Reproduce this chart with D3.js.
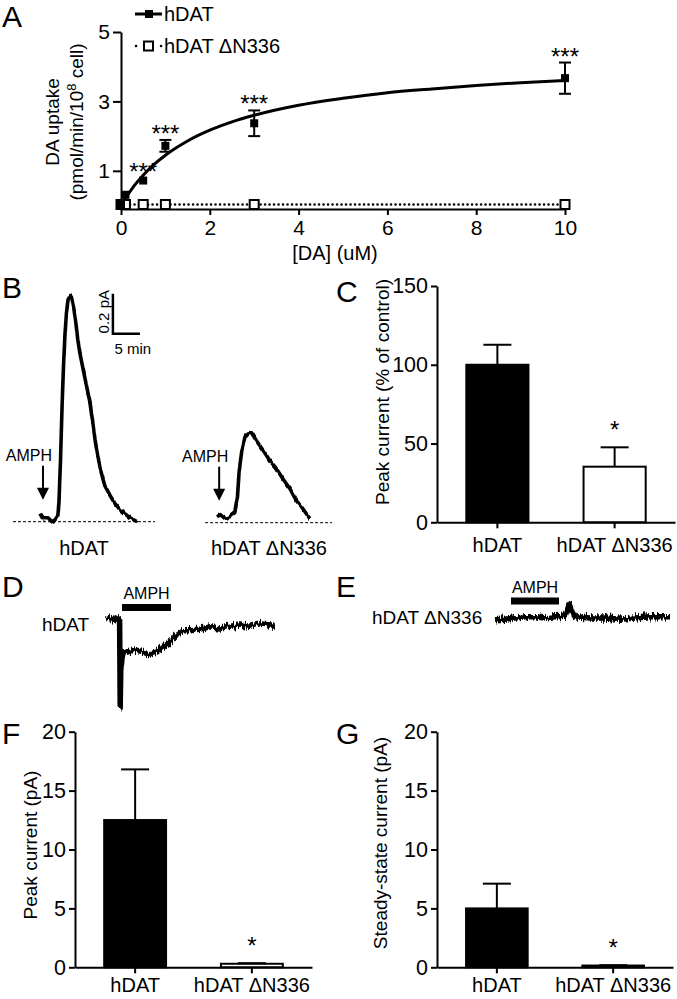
<!DOCTYPE html>
<html>
<head>
<meta charset="utf-8">
<script src="https://cdn.jsdelivr.net/npm/d3@7"></script>
<style>
  body { margin: 0; background: #fff; }
  svg text { font-family: "Liberation Sans", Arial, sans-serif; fill: #000; }
</style>
</head>
<body>
<svg id="fig" width="677" height="999"></svg>
<script>
// ---- panel A: DA uptake vs [DA]
const daConc = [0, 0.1, 0.5, 1, 3, 10]
const uptakeWT = [0.02, 0.31, 0.72, 1.72, 2.37, 3.67]
const uptakeWTErr = [0.03, 0.05, 0.06, 0.17, 0.37, 0.45]
const uptakeDN = [0.03, 0.03, 0.03, 0.03, 0.03, 0.03]
const uptakeStars = ["", "", "***", "***", "***", "***"]
const fitConc = [0, 0.1, 0.25, 0.5, 0.75, 1, 1.5, 2, 2.5, 3, 4, 5, 6, 7, 8, 9, 10]
const fitUptake = [0, 0.21, 0.49, 0.87, 1.19, 1.45, 1.86, 2.17, 2.41, 2.6, 2.89, 3.09, 3.25, 3.36, 3.46, 3.54, 3.6]
const aXTicks = [0, 2, 4, 6, 8, 10]
const aYTicks = [1, 3, 5]

// ---- panel B: amperometric traces (min, pA)
const bWtTime = [0, 0.4, 0.9, 1.5, 2.2, 2.8, 3.3, 3.5, 3.8, 4.1, 4.4, 4.6, 4.9, 5.2, 5.6, 5.9, 6.3, 6.7, 7.0, 7.4, 8.3, 9.3, 10.2, 11.1, 12.0, 13.0, 13.9, 14.8, 15.7, 16.7, 18.0]
const bWtCur = [0.04, 0.02, 0.02, 0.02, 0.00, 0.01, 0.03, 0.09, 0.31, 0.59, 0.81, 0.92, 1.05, 1.11, 1.13, 1.12, 1.06, 0.98, 0.91, 0.84, 0.72, 0.59, 0.41, 0.27, 0.18, 0.13, 0.09, 0.06, 0.04, 0.02, 0.00]
const bDnTime = [0, 0.6, 1.5, 2.4, 3.3, 3.8, 4.1, 4.6, 5.2, 5.8, 6.4, 7.3, 8.6, 9.8, 11.0, 12.2, 13.5, 14.7, 15.9, 17.2]
const bDnCur = [0.03, 0.04, 0.02, 0.03, 0.05, 0.13, 0.26, 0.36, 0.43, 0.45, 0.45, 0.41, 0.36, 0.31, 0.27, 0.22, 0.17, 0.11, 0.07, 0.02]

// ---- panels C, F, G: bar summaries
const groups = ["hDAT", "hDAT \u0394N336"]
const peakPct = [100, 35.3]
const peakPctErr = [12.7, 12.3]
const peakPA = [12.5, 0.3]
const peakPAErr = [4.3, 0.05]
const steadyPA = [5.0, 0.15]
const steadyPAErr = [2.1, 0.03]
const barStars = ["", "*"]

// ---- panels D, E: whole-cell currents (s, pA)
const dTime = [0, 4, 8, 12, 13.6, 14.2, 14.8, 16, 18, 24, 34, 44, 51, 59, 66, 72, 76, 84, 94, 104, 114, 124, 134, 144, 154, 164, 169]
const dCur = [0, 0.3, -0.2, 0.2, 0, -14.5, -8.5, -6.5, -5.5, -5.2, -5.5, -5.8, -5.5, -4.3, -3.5, -2.3, -1.8, -1.8, -1.7, -1.3, -1.5, -1.2, -1.0, -1.2, -0.8, -1.0, -1.0]
const eTime = [0, 10, 20, 30, 40, 50, 60, 70, 73, 75, 77, 80, 95, 110, 125, 140, 155, 165, 175]
const eCur = [-0.3, -0.2, 0, 0.2, 0.2, 0, 0.2, 0.3, 1.7, 2.3, 1.0, 0.2, 0, 0, -0.2, 0, 0.2, 0.2, 0.2]
const amphWindow = [16, 65]

const svg = d3.select("#fig")
const defs = svg.append("defs")

// jagged look of the recorded traces: vertical-only pixel jitter (style only, data untouched)
const noiseFilter = (id, freq, scale) => {
  const f = defs.append("filter").attr("id", id).attr("filterUnits", "userSpaceOnUse")
    .attr("x", 0).attr("y", 0).attr("width", 677).attr("height", 999)
  f.append("feTurbulence").attr("type", "fractalNoise").attr("baseFrequency", freq)
    .attr("numOctaves", 2).attr("seed", 4).attr("result", "n")
  f.append("feColorMatrix").attr("in", "n").attr("type", "matrix")
    .attr("values", "0 0 0 0 0.5  0 1 0 0 0  0 0 1 0 0  0 0 0 0 1").attr("result", "m")
  f.append("feDisplacementMap").attr("in", "SourceGraphic").attr("in2", "m")
    .attr("scale", scale).attr("xChannelSelector", "R").attr("yChannelSelector", "G")
}
noiseFilter("noiseSoft", "0.3 0.05", 4)
noiseFilter("noiseHard", "0.6 0.05", 10)

const styleAxis = (g, size) => {
  g.select(".domain").attr("stroke", "#000").attr("stroke-width", 2)
  g.selectAll(".tick line").attr("stroke", "#000").attr("stroke-width", 2)
  g.selectAll(".tick text").attr("font-size", size)
}

const letter = (s, x, y) => svg.append("text").attr("x", x).attr("y", y).attr("font-size", 30).text(s)

const vLabel = (x, y, s, size) => svg.append("text")
  .attr("transform", `translate(${x},${y}) rotate(-90)`)
  .attr("text-anchor", "middle").attr("font-size", size).text(s)

// ================= A =================
letter("A", 2, 27)
const xA = d3.scaleLinear().domain([0, 10]).range([121, 565])
const yA = d3.scaleLinear().domain([-0.1, 5]).range([209, 32])

svg.append("g").attr("transform", `translate(0,${yA(-0.1)})`)
  .call(d3.axisBottom(xA).tickValues(aXTicks).tickFormat(d3.format("d")).tickSize(6).tickSizeOuter(0).tickPadding(5))
  .call(g => styleAxis(g, 21))
svg.append("g").attr("transform", `translate(${xA(0)},0)`)
  .call(d3.axisLeft(yA).tickValues(aYTicks).tickFormat(d3.format("d")).tickSize(8).tickSizeOuter(0).tickPadding(3))
  .call(g => styleAxis(g, 21))

// ΔN336 dotted line and fit curve
svg.append("path").datum(daConc)
  .attr("d", d3.line().x(d => xA(d)).y((d, i) => yA(uptakeDN[i])))
  .attr("fill", "none").attr("stroke", "#000").attr("stroke-width", 2.5)
  .attr("stroke-dasharray", "0.1,4.4").attr("stroke-linecap", "round")
svg.append("path").datum(fitConc)
  .attr("d", d3.line().curve(d3.curveMonotoneX).x(d => xA(d)).y((d, i) => yA(fitUptake[i])))
  .attr("fill", "none").attr("stroke", "#000").attr("stroke-width", 3)

// error bars
const errA = svg.append("g").attr("stroke", "#000").attr("stroke-width", 2)
daConc.forEach((c, i) => {
  const x = xA(c), lo = yA(uptakeWT[i] - uptakeWTErr[i]), hi = yA(uptakeWT[i] + uptakeWTErr[i])
  if (hi - lo > -8) return
  errA.append("line").attr("x1", x).attr("x2", x).attr("y1", lo).attr("y2", hi)
  errA.append("line").attr("x1", x - 6).attr("x2", x + 6).attr("y1", lo).attr("y2", lo)
  errA.append("line").attr("x1", x - 6).attr("x2", x + 6).attr("y1", hi).attr("y2", hi)
})

svg.append("g").selectAll("rect").data(daConc).join("rect")
  .attr("x", d => xA(d) - 4.5).attr("y", (d, i) => yA(uptakeDN[i]) - 4.5)
  .attr("width", 9).attr("height", 9).attr("fill", "#fff").attr("stroke", "#000").attr("stroke-width", 2)
svg.append("g").selectAll("rect").data(daConc).join("rect")
  .attr("x", d => xA(d) - 4).attr("y", (d, i) => yA(uptakeWT[i]) - 4)
  .attr("width", 8).attr("height", 8).attr("fill", "#000")

svg.append("g").selectAll("text").data(daConc).join("text")
  .attr("x", d => xA(d)).attr("y", (d, i) => yA(uptakeWT[i] + uptakeWTErr[i]) + 2)
  .attr("text-anchor", "middle").attr("font-size", 24)
  .text((d, i) => uptakeStars[i])

// legend
const lg = svg.append("g")
lg.append("line").attr("x1", 135).attr("x2", 162).attr("y1", 14).attr("y2", 14).attr("stroke", "#000").attr("stroke-width", 3)
lg.append("rect").attr("x", 145).attr("y", 10).attr("width", 8).attr("height", 8).attr("fill", "#000")
lg.append("text").attr("x", 164).attr("y", 21).attr("font-size", 20).text("hDAT")
lg.append("line").attr("x1", 136).attr("x2", 162).attr("y1", 46).attr("y2", 46).attr("stroke", "#000").attr("stroke-width", 2.5)
  .attr("stroke-dasharray", "0.1,24.9").attr("stroke-linecap", "round")
lg.append("rect").attr("x", 144).attr("y", 41.5).attr("width", 9).attr("height", 9).attr("fill", "#fff").attr("stroke", "#000").attr("stroke-width", 2)
lg.append("text").attr("x", 164).attr("y", 53).attr("font-size", 20).text("hDAT \u0394N336")

// axis titles
vLabel(59, 122, "DA uptake", 19)
const yl2 = svg.append("text").attr("transform", "translate(83,122) rotate(-90)")
  .attr("text-anchor", "middle").attr("font-size", 19)
yl2.append("tspan").text("(pmol/min/10")
yl2.append("tspan").attr("dy", -7).attr("font-size", 13).text("8")
yl2.append("tspan").attr("dy", 7).text(" cell)")
svg.append("text").attr("x", 335).attr("y", 260).attr("text-anchor", "middle").attr("font-size", 20).text("[DA] (uM)")

// ================= B =================
letter("B", 2, 298)
const traceB = (time, cur, x0, base, arrowT, labelX, label) => {
  const x = d3.scaleLinear().domain([0, 1]).range([x0, x0 + 5.4])
  const y = d3.scaleLinear().domain([0, 1]).range([base, base - 200])
  svg.append("line").attr("x1", x(time[0] - (x0 < 100 ? 5 : 2.2))).attr("x2", x(21.3))
    .attr("y1", y(0)).attr("y2", y(0)).attr("stroke", "#000").attr("stroke-width", 1).attr("stroke-dasharray", "3,2")
  svg.append("path").datum(time)
    .attr("d", d3.line().x(d => x(d)).y((d, i) => y(cur[i])))
    .attr("fill", "none").attr("stroke", "#000").attr("stroke-width", 3.6)
    .attr("stroke-linejoin", "round").attr("filter", "url(#noiseSoft)")
  // AMPH arrow
  const ax = x(arrowT)
  svg.append("line").attr("x1", ax).attr("x2", ax).attr("y1", y(0.28)).attr("y2", y(0.16))
    .attr("stroke", "#000").attr("stroke-width", 2)
  svg.append("path").attr("d", `M${ax - 6},${y(0.17)} L${ax + 6},${y(0.17)} L${ax},${y(0.11)} Z`).attr("fill", "#000")
  svg.append("text").attr("x", ax - 14).attr("y", y(0.28) - 5).attr("text-anchor", "middle").attr("font-size", 16).text("AMPH")
  svg.append("text").attr("x", labelX).attr("y", 555).attr("text-anchor", "middle").attr("font-size", 20).text(label)
  return [x, y]
}
const [xB, yB] = traceB(bWtTime, bWtCur, 40, 521.7, 0.55, 84, groups[0])
traceB(bDnTime, bDnCur, 217, 522.7, 0.4, 269, groups[1])

// scale bar: 0.2 pA, 5 min
const sbT = 13.5, sbI = 0.94
svg.append("path")
  .attr("d", `M${xB(sbT)},${yB(sbI + 0.2)} V${yB(sbI)} H${xB(sbT + 5)}`)
  .attr("fill", "none").attr("stroke", "#000").attr("stroke-width", 2.5)
vLabel(xB(sbT) - 4, (yB(sbI) + yB(sbI + 0.2)) / 2 - 2, "0.2 pA", 15)
svg.append("text").attr("x", xB(sbT + 3.7)).attr("y", yB(sbI) + 20).attr("text-anchor", "middle").attr("font-size", 15).text("5 min")

// ================= bar panels C, F, G =================
const barPanel = (o) => {
  const y = d3.scaleLinear().domain([0, o.max]).range([o.y0, o.y1])
  const x = d3.scaleBand().domain(groups).range([o.x0, o.x1]).paddingInner(0.47).paddingOuter(0.25)
  const g = svg.append("g")
  g.selectAll("rect").data(groups).join("rect")
    .attr("x", d => x(d)).attr("width", x.bandwidth())
    .attr("y", (d, i) => y(o.vals[i])).attr("height", (d, i) => o.y0 - y(o.vals[i]))
    .attr("fill", (d, i) => i === 0 ? "#000" : "#fff").attr("stroke", "#000").attr("stroke-width", 2)
  groups.forEach((d, i) => {
    const cx = x(d) + x.bandwidth() / 2, top = y(o.vals[i] + o.errs[i])
    g.append("line").attr("x1", cx).attr("x2", cx).attr("y1", y(o.vals[i])).attr("y2", top).attr("stroke", "#000").attr("stroke-width", 2)
    g.append("line").attr("x1", cx - 14).attr("x2", cx + 14).attr("y1", top).attr("y2", top).attr("stroke", "#000").attr("stroke-width", 2)
    g.append("text").attr("x", cx).attr("y", top - 9).attr("text-anchor", "middle").attr("font-size", 24).text(barStars[i])
  })
  svg.append("g").attr("transform", `translate(${o.x0},0)`)
    .call(d3.axisLeft(y).tickValues(o.ticks).tickSize(6).tickSizeOuter(0).tickPadding(3))
    .call(a => styleAxis(a, 21.5))
  svg.append("g").attr("transform", `translate(0,${o.y0})`)
    .call(d3.axisBottom(x).tickSize(6).tickSizeOuter(0).tickPadding(o.pad))
    .call(a => styleAxis(a, 20))
  vLabel(o.labelX, o.labelY, o.label, 19)
}

letter("C", 336, 302)
barPanel({ x0: 437, x1: 675, y0: 522.3, y1: 286, max: 150, ticks: [0, 50, 100, 150],
  vals: peakPct, errs: peakPctErr, pad: 10, label: "Peak current (% of control)", labelX: 389, labelY: 392 })

letter("F", 2, 744)
barPanel({ x0: 75, x1: 312, y0: 967.3, y1: 731.7, max: 20, ticks: [0, 5, 10, 15, 20],
  vals: peakPA, errs: peakPAErr, pad: 5, label: "Peak current (pA)", labelX: 37, labelY: 845 })

letter("G", 336, 744)
barPanel({ x0: 437, x1: 673, y0: 967.3, y1: 731.7, max: 20, ticks: [0, 5, 10, 15, 20],
  vals: steadyPA, errs: steadyPAErr, pad: 5, label: "Steady-state current (pA)", labelX: 387, labelY: 843 })

// ================= D, E =================
const traceDE = (time, cur, x0, base, labelX, labelY, label) => {
  const x = d3.scaleLinear().domain([0, 1]).range([x0, x0 + 1])
  const y = d3.scaleLinear().domain([0, -1]).range([base, base + 6])
  svg.append("path").datum(time)
    .attr("d", d3.line().x(d => x(d)).y((d, i) => y(cur[i])))
    .attr("fill", "none").attr("stroke", "#000").attr("stroke-width", 5.5)
    .attr("stroke-linejoin", "round").attr("filter", "url(#noiseHard)")
  svg.append("text").attr("x", labelX).attr("y", labelY).attr("font-size", 19).text(label)
  return x
}
letter("D", 2, 597)
const xD = traceDE(dTime, dCur, 106, 619, 42, 631, groups[0])
svg.append("rect").attr("x", xD(amphWindow[0])).attr("y", 604).attr("width", xD(amphWindow[1]) - xD(amphWindow[0])).attr("height", 7)
svg.append("text").attr("x", (xD(amphWindow[0]) + xD(amphWindow[1])) / 2).attr("y", 599).attr("text-anchor", "middle").attr("font-size", 16).text("AMPH")

letter("E", 336, 597)
const xE = traceDE(eTime, eCur, 495, 618, 372, 624, groups[1])
svg.append("rect").attr("x", xE(amphWindow[0])).attr("y", 597.5).attr("width", xE(amphWindow[1] - 1) - xE(amphWindow[0])).attr("height", 7)
svg.append("text").attr("x", (xE(amphWindow[0]) + xE(amphWindow[1] - 1)) / 2).attr("y", 593).attr("text-anchor", "middle").attr("font-size", 16).text("AMPH")
</script>
</body>
</html>
